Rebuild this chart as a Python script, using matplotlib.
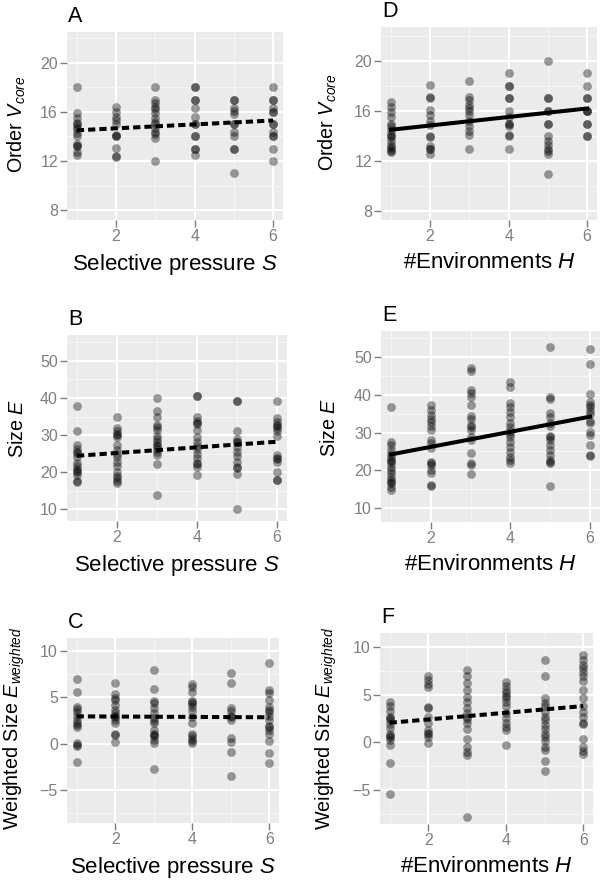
import numpy as np
import matplotlib.pyplot as plt
from matplotlib.ticker import FixedLocator

plt.rcParams['font.family'] = ['Liberation Sans', 'DejaVu Sans']
plt.rcParams['mathtext.fontset'] = 'custom'
plt.rcParams['mathtext.rm'] = 'Liberation Sans'
plt.rcParams['mathtext.it'] = 'Liberation Sans:italic'

levels = [1, 2, 3, 4, 5, 6]
fit_x = [1, 6]

# A: order V_core vs selective pressure S
a_vcore = [
    [18, 15.9, 15.5, 15.1, 15.0, 14.8, 14.6, 14.3, 14.0, 13.4, 13.2, 13.2, 12.7, 12.5],
    [16.4, 16.0, 15.6, 15.3, 15.0, 14.0, 14.0, 14.1, 13.1, 12.4, 12.3],
    [18, 17.0, 16.7, 16.4, 16.2, 15.9, 15.5, 15.2, 15.0, 14.7, 14.4, 14.2, 13.9, 12.0],
    [18, 18, 17, 17, 16.3, 15.6, 15.0, 15.0, 14.0, 14.0, 13.0, 13.0, 12.5],
    [17, 17, 16.3, 16.1, 15.8, 15.0, 15.0, 14.4, 14.0, 13.0, 13.0, 11.0],
    [18, 17, 17, 16.3, 16.0, 16.0, 15.0, 15.0, 14.4, 14.0, 14.0, 13.0, 12.0],
]
a_fit = [14.5, 15.3]

# B: size E vs selective pressure S
b_size = [
    [37.9, 31.0, 27.2, 26.2, 25.5, 25.2, 24.0, 22.5, 21.7, 20.7, 20.2, 20.0, 19.3, 17.5, 17.3],
    [35.0, 31.8, 31.0, 30.3, 30.0, 29.5, 27.3, 26.0, 25.0, 24.0, 22.8, 21.6, 20.1, 18.9, 18.5, 17.6, 17.0],
    [40.1, 36.6, 34.9, 32.8, 32.1, 31.3, 29.8, 29.0, 28.0, 27.3, 27.0, 26.3, 25.4, 24.5, 22.3, 13.9],
    [40.5, 40.5, 34.9, 33.8, 33.0, 33.2, 31.3, 29.5, 28.0, 27.0, 26.1, 25.0, 23.7, 22.5, 22.3, 21.4, 19.2],
    [39.3, 39.3, 31.1, 28.9, 28.0, 28.2, 26.8, 25.4, 24.3, 22.7, 21.4, 21.0, 19.6, 10.1],
    [39.3, 34.5, 33.6, 32.7, 32.5, 31.8, 31.0, 29.8, 24.6, 23.9, 23.6, 22.8, 20.1, 18.0, 17.9],
]
b_fit = [24.4, 28.2]

# C: weighted size vs selective pressure S
c_weighted = [
    [7.0, 5.6, 4.0, 3.7, 3.4, 3.0, 2.6, 2.2, 2.0, 1.8, 0.1, -0.1, -0.3, -2.0],
    [6.6, 5.4, 4.9, 4.7, 4.2, 3.6, 3.3, 3.0, 2.9, 2.6, 2.2, 1.1, 0.9, 0.2],
    [7.9, 5.9, 4.6, 4.4, 3.8, 3.3, 2.8, 2.5, 2.2, 1.5, 1.1, 0.9, 0.8, 0.4, 0.1, -2.7],
    [6.4, 6.1, 5.6, 4.6, 4.5, 4.3, 4.0, 3.5, 2.9, 2.2, 1.1, 0.8, 0.5, 0.3, 0.1],
    [7.6, 6.5, 3.8, 3.5, 3.0, 2.9, 2.6, 0.6, 0.2, -0.9, -3.5],
    [8.7, 5.8, 5.5, 4.7, 4.0, 3.6, 3.4, 3.0, 2.6, 1.9, 1.8, 1.5, 1.0, 0.3, -1.0, -2.1],
]
c_fit = [2.95, 2.85]

# D: order V_core vs #environments H
d_vcore = [
    [16.7, 16.3, 15.9, 15.5, 15.0, 14.8, 14.5, 14.2, 14.0, 13.9, 13.6, 13.3, 13.1, 13.0, 12.8, 12.7],
    [18.1, 17.1, 17.0, 16.1, 15.7, 15.2, 14.9, 14.0, 13.9, 13.2, 13.0, 13.0, 12.6],
    [18.4, 17.1, 16.9, 16.5, 16.2, 16.0, 15.7, 15.2, 14.8, 14.4, 14.1, 13.0],
    [19, 18, 18, 17, 17, 16.0, 15.5, 15.0, 15.0, 14.8, 14.0, 14.1, 13.0],
    [20, 17, 17, 16, 16, 15, 15, 14.0, 13.6, 13.3, 13.0, 12.8, 12.6, 11.0],
    [19, 18, 17, 17, 16, 16, 16, 15, 15, 14, 14],
]
d_fit = [14.5, 16.2]

# E: size E vs #environments H
e_size = [
    [36.8, 27.5, 26.6, 25.5, 24.4, 23.5, 22.7, 22.5, 21.9, 21.0, 20.1, 19.2, 18.3, 17.5, 17.0, 16.5, 15.6, 14.8],
    [37.3, 36.1, 34.6, 33.7, 32.7, 31.8, 30.8, 28.1, 27.1, 25.8, 22.1, 21.8, 21.4, 20.1, 19.2, 16.0, 15.8],
    [47, 46.2, 41.3, 40.4, 39.5, 37.3, 34.3, 33.7, 31.9, 31.5, 30.6, 28.8, 27.9, 24.6, 21.9, 21.4, 18.9],
    [43.4, 42.1, 37.9, 36.8, 35.5, 34.1, 32.4, 31.5, 30.4, 29.5, 28.8, 27.5, 26.2, 24.9, 23.5, 22.7, 21.8],
    [52.7, 39.3, 39.0, 35.2, 34.1, 32.4, 31.7, 29.0, 28.8, 28.1, 26.6, 25.3, 24.0, 22.6, 22.3, 21.8, 15.8],
    [52, 48.1, 40.2, 38.1, 37.2, 36.8, 35.7, 34.9, 33.0, 32.4, 30.2, 29.3, 26.6, 24.0, 23.8],
]
e_fit = [24.2, 34.2]

# F: weighted size vs #environments H
f_weighted = [
    [4.2, 3.8, 3.3, 2.7, 2.5, 2.3, 1.9, 1.5, 0.9, 0.7, 0.6, 0.2, -0.3, -2.2, -5.4],
    [6.9, 6.5, 6.1, 5.8, 3.7, 3.6, 2.7, 2.0, 1.3, 1.0, 0.9, 0.6, -0.1],
    [7.6, 6.9, 6.2, 5.5, 4.7, 4.2, 3.6, 3.1, 2.7, 2.4, 2.0, 1.4, 0.4, -0.5, -1.0, -1.3, -7.8],
    [6.3, 5.9, 5.5, 5.2, 4.9, 4.6, 4.2, 3.8, 3.1, 2.5, 2.0, 1.6, 1.3, -0.3],
    [8.6, 6.9, 4.6, 4.1, 3.8, 3.2, 2.7, 2.3, 1.8, 1.4, 0.9, 0.6, 0.1, -0.5, -0.8, -2.0, -3.0],
    [9.1, 8.6, 8.1, 7.8, 7.4, 6.9, 6.4, 5.5, 4.6, 3.8, 3.2, 2.7, 2.0, 1.9, 0.3, -0.5, -0.9, -1.2],
]
f_fit = [2.05, 3.8]

label_s = r"Selective pressure $S$"
label_h = r"#Environments $H$"
label_v = r"Order $V_{core}$"
label_e = r"Size $E$"
label_w = r"Weighted Size $E_{weighted}$"

W, H = 600, 882
GREY = "#7f7f7f"

# letter, data, fit, dashed?, ylabel, xlabel, (left, right, top, bottom) px, ylim, yticks,
# ylabel anchor (x, y) px
panels = [
    ("A", a_vcore, a_fit, True, label_v, label_s, (67, 283, 32, 220), (7.2, 22.5), [8, 12, 16, 20], (28, 124)),
    ("D", d_vcore, d_fit, False, label_v, label_h, (381, 597, 27, 220), (7.3, 22.7), [8, 12, 16, 20], (339, 122)),
    ("B", b_size, b_fit, True, label_e, label_s, (67, 287, 335, 521), (6.8, 57.0), [10, 20, 30, 40, 50], (27, 428)),
    ("E", e_size, e_fit, False, label_e, label_h, (381, 600, 331, 522), (6.3, 56.9), [10, 20, 30, 40, 50], (339, 427)),
    ("C", c_weighted, c_fit, True, label_w, label_s, (67, 279, 638, 823), (-8.55, 11.4), [-5, 0, 5, 10], (27, 728)),
    ("F", f_weighted, f_fit, True, label_w, label_h, (380, 593, 633, 824), (-8.55, 11.45), [-5, 0, 5, 10], (339, 728)),
]


def px(x, y):
    return x / W, 1 - y / H


fig = plt.figure(figsize=(W / 100, H / 100), dpi=100)

for letter, groups, fit, dashed, ylab, xlab, box, ylim, yticks, ylab_pos in panels:
    l, r, t, b = box
    ax = fig.add_axes([l / W, 1 - b / H, (r - l) / W, (b - t) / H])
    ax.set_facecolor("#ebebeb")
    for s in ax.spines.values():
        s.set_visible(False)

    xs = np.concatenate([[lv] * len(g) for lv, g in zip(levels, groups)])
    ys = np.concatenate(groups)
    ax.scatter(xs, ys, s=40, color="black", alpha=0.38, linewidths=0, zorder=3)

    ls = (0, (1.8, 1.0)) if dashed else "-"
    ax.plot(fit_x, fit, color="black", lw=2.9, linestyle=ls, zorder=4)

    ax.set_xlim(0.75, 6.25)
    ax.set_ylim(*ylim)
    ax.set_xticks([2, 4, 6])
    ax.set_yticks(yticks)
    step = yticks[1] - yticks[0]
    minor_y = [v + step / 2 for v in [yticks[0] - step] + yticks]
    ax.xaxis.set_minor_locator(FixedLocator([1, 3, 5]))
    ax.yaxis.set_minor_locator(FixedLocator(minor_y))
    ax.set_axisbelow(True)
    ax.grid(which="major", color="white", lw=1.5)
    ax.grid(which="minor", color="#f7f7f7", lw=0.7)
    ax.tick_params(which="major", direction="out", length=5, width=1,
                   color=GREY, labelcolor=GREY, labelsize=11.5, pad=1.5)
    ax.tick_params(which="minor", length=0)

    ax.set_xlabel(xlab, fontsize=16)
    ax.set_ylabel(ylab, fontsize=14.2)
    ax.xaxis.set_label_coords((l + r) / 2 / W, 1 - (b + 32) / H, transform=fig.transFigure)
    ax.xaxis.label.set_va("top")
    lx, ly = px(*ylab_pos)
    ax.yaxis.set_label_coords(lx, ly, transform=fig.transFigure)

    fx, fy = px(l + 1, t - 10)
    fig.text(fx, fy, letter, fontsize=15.5, va="baseline", ha="left")

fig.savefig("out.png", dpi=100)
